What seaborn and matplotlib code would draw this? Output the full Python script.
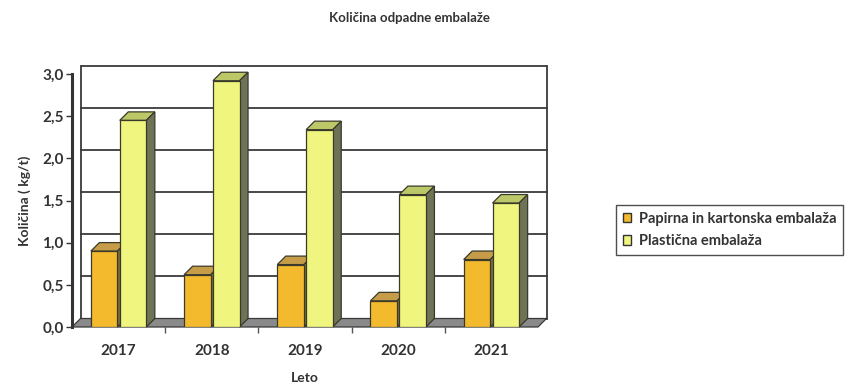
import matplotlib
matplotlib.use("Agg")
import matplotlib.pyplot as plt
import matplotlib.transforms as mtransforms
from matplotlib.patches import Polygon, Patch
import pandas as pd
import seaborn as sns

years = ["2017", "2018", "2019", "2020", "2021"]
papir = [0.90, 0.62, 0.74, 0.31, 0.80]
plastika = [2.45, 2.92, 2.34, 1.57, 1.47]
series = ["Papirna in kartonska embalaža", "Plastična embalaža"]
y_ticks = [0.0, 0.5, 1.0, 1.5, 2.0, 2.5, 3.0]

front_col = ["#F4BA2E", "#EFF57E"]
top_col = ["#C69C48", "#BCC868"]
side_col = ["#7D6F3C", "#6E7358"]
depth = 8.5  # px, pseudo-3D depth

sns.set_style("white")
plt.rcParams["font.family"] = ["Lato", "DejaVu Sans"]

df = pd.DataFrame({
    "Leto": years * 2,
    "Kolicina": papir + plastika,
    "Vrsta": [series[0]] * len(years) + [series[1]] * len(years),
})

fig = plt.figure(figsize=(8.5, 3.84), dpi=100)
ax = fig.add_axes([72 / 850, 1 - 327 / 384, (538 - 72) / 850, (327 - 74) / 384])

sns.barplot(data=df, x="Leto", y="Kolicina", hue="Vrsta", palette=front_col,
            width=0.62, gap=0.08, edgecolor="#3a3a2a", linewidth=0.9,
            saturation=1, legend=False, ax=ax)

ax.set_xlim(-0.5, len(years) - 0.5)
ax.set_ylim(0, 3.0)

# depth in data units
ax_w = (538 - 72)
ax_h = (327 - 74)
ddx = depth / (ax_w / len(years))
ddy = depth / (ax_h / 3.0)

# pseudo 3D faces for each bar, taken from the seaborn patches
bars = [p for p in ax.patches if p.get_width() > 0]
bars.sort(key=lambda p: p.get_x())
for i, p in enumerate(bars):
    k = 0 if p.get_facecolor()[2] < 0.35 else 1
    x0, x1 = p.get_x(), p.get_x() + p.get_width()
    h = p.get_height()
    z = 3 + i * 0.1
    top = Polygon([(x0, h), (x1, h), (x1 + ddx, h + ddy), (x0 + ddx, h + ddy)],
                  closed=True, facecolor=top_col[k], edgecolor="#3a3a2a",
                  linewidth=0.9, zorder=z, clip_on=False)
    side = Polygon([(x1, 0), (x1 + ddx, ddy), (x1 + ddx, h + ddy), (x1, h)],
                   closed=True, facecolor=side_col[k], edgecolor="#3a3a2a",
                   linewidth=0.9, zorder=z, clip_on=False)
    ax.add_patch(top)
    ax.add_patch(side)
    p.set_zorder(z + 0.05)

# floor
floor = Polygon([(-0.5, 0), (len(years) - 0.5, 0),
                 (len(years) - 0.5 + ddx, ddy), (-0.5 + ddx, ddy)],
                closed=True, facecolor="#8a8a8a", edgecolor="#3a3a3a",
                linewidth=0.9, zorder=1.5, clip_on=False)
ax.add_patch(floor)

# back wall gridlines
shift = mtransforms.ScaledTranslation(depth / 100, depth / 100, fig.dpi_scale_trans)
ax.set_yticks(y_ticks)
ax.grid(axis="y", color="#3a3a3a", linewidth=1.3)
for gl in ax.get_ygridlines():
    gl.set_transform(gl.get_transform() + shift)
    gl.set_clip_on(False)
    gl.set_zorder(1)
ax.set_axisbelow(True)
for xx in [0, 1]:
    ax.plot([xx, xx], [0, 1], transform=ax.transAxes + shift, color="#3a3a3a",
            linewidth=1.3, clip_on=False, zorder=1)

for s in ["top", "right", "bottom"]:
    ax.spines[s].set_visible(False)
ax.spines["left"].set_color("#333333")
ax.spines["left"].set_linewidth(2.2)

ax.set_yticklabels([f"{v:.1f}".replace(".", ",") for v in y_ticks],
                   fontsize=11, fontweight="bold", color="#333333")
ax.set_xticks(range(len(years)))
ax.set_xticklabels(years, fontsize=11, fontweight="bold", color="#333333")
ax.tick_params(axis="x", length=0, pad=12)
ax.tick_params(axis="y", length=4, width=1, color="#333333", left=True, pad=2)
ax.set_xticks([i + 0.5 for i in range(len(years) - 1)], minor=True)
ax.tick_params(axis="x", which="minor", length=4, width=1, color="#555555", bottom=True)

ax.set_xlabel("Leto", fontsize=10, fontweight="bold", color="#333333", labelpad=10)
ax.set_ylabel("Količina ( kg/t)", fontsize=10, fontweight="bold", color="#333333", labelpad=8)

fig.text(0.482, 0.953, "Količina odpadne embalaže", ha="center", va="center",
         fontsize=9.5, fontweight="bold", color="#333333")

handles = [Patch(facecolor=front_col[i], edgecolor="#333333", linewidth=1) for i in range(2)]
leg = fig.legend(handles, series, loc="center left", bbox_to_anchor=(616 / 850, 1 - 230 / 384),
                 frameon=True, fancybox=False, edgecolor="#222222", fontsize=10.5,
                 handlelength=0.6, handleheight=0.6, handletextpad=0.5,
                 borderpad=0.45, labelspacing=0.55, borderaxespad=0)
leg.get_frame().set_linewidth(1)
for t in leg.get_texts():
    t.set_fontweight("bold")
    t.set_color("#333333")

fig.savefig("out.png", dpi=100)
